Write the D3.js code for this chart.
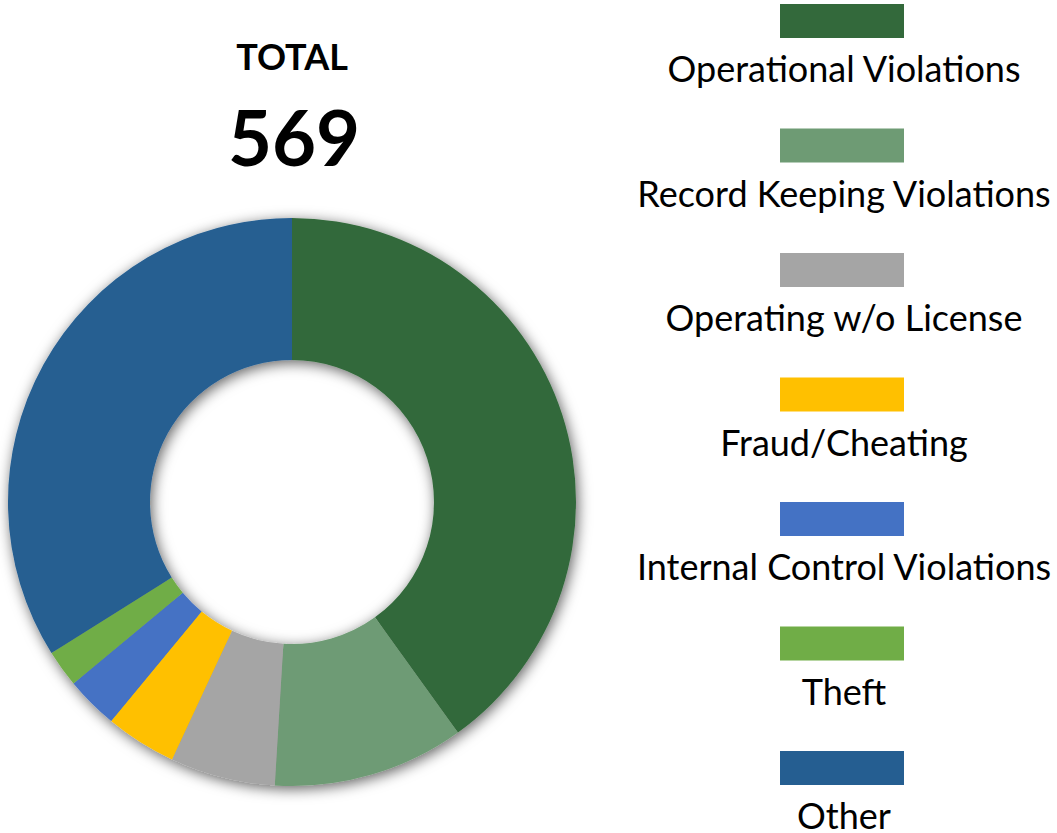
<!DOCTYPE html>
<html>
<head>
<meta charset="utf-8">
<script src="https://cdn.jsdelivr.net/npm/d3@7"></script>
<style>
  body { margin: 0; background: #fff; }
  svg { display: block; font-family: Lato, "Open Sans", sans-serif; }
</style>
</head>
<body>
<div id="chart"></div>
<script>
// violation categories and counts
const categories = ['Operational Violations', 'Record Keeping Violations', 'Operating w/o License',
    'Fraud/Cheating', 'Internal Control Violations', 'Theft', 'Other'];
const counts = [228, 62, 34, 23, 17, 12, 193];
const colors = ['#33693B', '#6E9B74', '#A5A5A5', '#FFC000', '#4472C4', '#70AD47', '#255E91'];
const totalLabel = 'TOTAL';

const width = 1057, height = 833;
const cx = 292, cy = 502, outer = 284, inner = 142;

let svg = d3.select('#chart').append('svg').attr('width', width).attr('height', height);

let defs = svg.append('defs');
let f = defs.append('filter').attr('id', 'shadow')
    .attr('x', '-20%').attr('y', '-20%').attr('width', '140%').attr('height', '140%');
f.append('feDropShadow')
    .attr('dx', 2).attr('dy', 3)
    .attr('stdDeviation', 7)
    .attr('flood-color', '#000')
    .attr('flood-opacity', 0.62);

let data = categories.map((c, i) => ({ name: c, value: counts[i], color: colors[i] }));
let pie = d3.pie().sort(null).value(d => d.value);
let arc = d3.arc().innerRadius(inner).outerRadius(outer);

let g = svg.append('g')
    .attr('transform', 'translate(' + cx + ',' + cy + ')')
    .attr('filter', 'url(#shadow)');

g.selectAll('path')
    .data(pie(data))
    .enter()
    .append('path')
    .attr('d', arc)
    .attr('fill', d => d.data.color);

// total in the top left
let total = d3.sum(counts);
svg.append('text')
    .attr('x', 292).attr('y', 70)
    .attr('text-anchor', 'middle')
    .attr('font-weight', 'bold')
    .attr('font-size', 36)
    .text(totalLabel);
svg.append('text')
    .attr('x', 294).attr('y', 166)
    .attr('text-anchor', 'middle')
    .attr('font-weight', 'bold')
    .attr('font-size', 76)
    .text(total);

// legend, stacked on the right
let lx = 842;
let ly = d3.scaleLinear().domain([0, categories.length - 1]).range([4, 751]);

let items = svg.selectAll('g.legend')
    .data(data)
    .enter()
    .append('g')
    .attr('class', 'legend')
    .attr('transform', (d, i) => 'translate(' + lx + ',' + ly(i) + ')');

items.append('rect')
    .attr('x', -62).attr('y', 0)
    .attr('width', 124).attr('height', 34)
    .attr('fill', d => d.color);

items.append('text')
    .attr('x', 2).attr('y', 78)
    .attr('text-anchor', 'middle')
    .attr('font-size', 36)
    .attr('fill', '#000')
    .text(d => d.name);
</script>
</body>
</html>
